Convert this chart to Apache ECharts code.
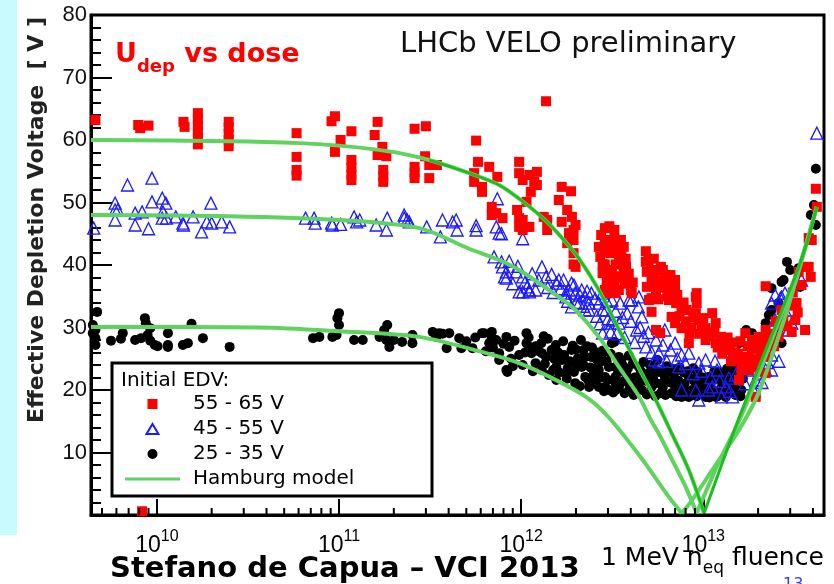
<!DOCTYPE html>
<html>
<head>
<meta charset="utf-8">
<title>Udep vs dose</title>
<script src="https://cdn.jsdelivr.net/npm/echarts@6/dist/echarts.min.js"></script>
<style>
  html, body { margin: 0; padding: 0; background: #fff; }
  #main { width: 834px; height: 584px; }
</style>
</head>
<body>
<div id="main"></div>
<script>
// fluence [1 MeV neq] , effective depletion voltage [V]
var red5565 = [
  [4.6e9,63.2],[7.9e9,62.4],[8.1e9,61.9],[9.0e9,62.3],[1.4e10,62.9],[1.42e10,62.1],
  [1.68e10,64.3],[1.68e10,63.3],[1.68e10,62.3],[1.68e10,61.3],[1.68e10,60.3],[1.68e10,59.3],
  [2.48e10,62.9],[2.48e10,62.0],[2.48e10,61.0],[2.48e10,60.0],[2.48e10,59.0],
  [5.85e10,61.1],[5.85e10,57.3],[5.85e10,55.2],[5.85e10,54.3],
  [9.1e10,63.0],[9.5e10,63.8],[1.02e11,60.0],[9.5e10,58.1],
  [1.17e11,61.4],[1.17e11,56.8],[1.17e11,55.6],[1.17e11,54.5],[1.17e11,53.6],
  [1.57e11,60.8],[1.63e11,62.9],[1.73e11,58.9],[1.82e11,57.4],[1.63e11,57.6],[1.75e11,55.2],[1.75e11,54.2],[1.75e11,53.3],
  [2.6e11,61.8],[2.6e11,55.7],[2.6e11,54.8],[2.6e11,53.9],[3.0e11,62.2],[2.97e11,57.4],[3.13e11,56.0],[3.13e11,53.9],[3.45e11,56.0],
  [1.37e12,66.2],
  [5.66e11,59.9],[5.8e11,56.5],[5.52e11,54.7],[5.52e11,53.3],[6.1e11,52.5],[6.1e11,51.7],[6.68e11,55.7],[7.4e11,54.1],
  [6.9e11,49.3],[7.3e11,48.3],[7.9e11,47.5],[6.9e11,48.0],
  [9.5e11,48.8],[9.75e11,56.5],[9.75e11,54.7],[1.02e12,53.6],[9.75e11,47.5],[9.75e11,46.1],[1.02e12,47.2],[1.02e12,45.6],
  [1.07e12,50.1],[1.08e12,46.1],[1.11e12,54.4],[1.11e12,46.1],[1.13e12,51.7],[1.18e12,53.3],[1.22e12,54.9],[1.22e12,52.8],
  [1.33e12,47.7],[1.39e12,47.2],[1.39e12,45.6],
  [1.61e12,50.4],[1.67e12,52.5],[1.88e12,51.8],[1.79e12,48.8],[1.9e12,47.7],[1.67e12,46.9],[1.99e12,46.4],[1.83e12,45.1],
  [1.94e12,45.6],[1.79e12,43.5],[1.94e12,44.0],[1.94e12,41.9],[1.94e12,40.1],[1.99e12,39.7],
  [2.67e12,42.9],[2.72e12,41.3],[2.8e12,38.7],[2.8e12,40.1],[2.88e12,45.9],[2.88e12,44.0],[2.88e12,42.0],[2.88e12,40.1],
  [2.88e12,36.0],[3.03e12,35.5],[3.1e12,41.9],[3.15e12,44.0],[3.15e12,37.1],[3.15e12,39.2],[3.25e12,45.6],[3.25e12,37.6],
  [3.3e12,43.0],[3.3e12,35.5],[3.3e12,40.1],[3.44e12,44.0],[3.44e12,40.5],[3.44e12,36.0],[3.53e12,44.0],[3.66e12,42.9],
  [3.66e12,39.2],[3.77e12,39.7],[3.82e12,37.6],[4.0e12,36.0],[4.05e12,35.5],
  [2.75e12,44.8],[2.95e12,43.0],[3.0e12,38.5],[3.05e12,46.2],[3.2e12,42.2],[3.35e12,38.2],[3.4e12,42.0],[3.5e12,38.0],
  [3.55e12,41.4],[3.7e12,37.0],[3.75e12,41.0],[3.9e12,38.6],[4.1e12,37.2],[2.95e12,37.2],[3.12e12,36.2],
  [4.84e12,42.2],[4.84e12,40.5],[4.9e12,38.9],[4.9e12,36.5],[5.03e12,34.4],[5.2e12,39.2],[5.2e12,37.5],[5.2e12,34.7],
  [5.2e12,32.5],[5.5e12,36.0],[5.5e12,29.6],[5.8e12,29.1],[5.85e12,39.7],[5.85e12,37.5],[6.0e12,39.2],[6.15e12,38.1],
  [6.47e12,34.4],[6.7e12,36.0],[6.7e12,31.7],[7.0e12,37.6],[7.0e12,36.0],[7.0e12,30.7],[7.1e12,33.9],[7.6e12,29.9],
  [5.0e12,40.8],[5.35e12,41.0],[5.4e12,38.2],[5.6e12,37.4],[5.65e12,34.5],[6.1e12,36.4],[6.3e12,37.2],[6.35e12,35.0],
  [6.6e12,38.4],[6.85e12,34.6],[7.2e12,35.2],[7.4e12,31.8],[7.8e12,34.0],[8.1e12,32.8],[8.4e12,29.0],[8.8e12,31.6],
  [7.6e12,33.0],[8.0e12,31.0],[8.33e12,27.5],[8.6e12,30.0],[9.1e12,34.9],[9.1e12,32.3],[9.2e12,35.5],[9.2e12,33.9],
  [9.45e12,31.2],[9.8e12,30.5],[9.5e12,29.0],[1.0e13,31.5],[1.03e13,29.9],[1.03e13,28.0],[1.07e13,28.6],[1.1e13,29.0],
  [1.12e13,32.3],[1.15e13,29.2],[1.17e13,30.7],[1.17e13,27.5],[1.2e13,26.8],[1.25e13,28.5],[1.27e13,25.8],[1.3e13,28.0],
  [1.33e13,26.4],[1.36e13,28.4],[1.4e13,27.0],[1.42e13,24.6],[1.45e13,25.9],[1.48e13,27.6],[1.5e13,26.0],[1.55e13,25.8],
  [1.57e13,24.8],[1.57e13,21.6],[1.6e13,27.8],[1.62e13,23.2],[1.66e13,23.8],[1.7e13,29.1],[1.7e13,25.3],[1.75e13,27.0],
  [1.78e13,23.2],[1.8e13,25.2],[1.85e13,28.0],[1.85e13,26.7],[1.85e13,24.3],[1.9e13,27.5],[1.94e13,18.9],[1.95e13,23.6],
  [2.01e13,28.5],[2.01e13,24.8],[2.05e13,26.0],[2.09e13,26.9],[2.12e13,28.0],[2.2e13,25.3],[2.2e13,22.7],[2.2e13,29.6],
  [2.2e13,36.6],[2.3e13,29.0],[2.37e13,27.5],[2.45e13,27.0],[2.5e13,31.0],[2.59e13,30.4],[2.59e13,28.5],[2.69e13,32.8],
  [2.75e13,31.6],[2.9e13,30.2],[2.95e13,33.5],[3.06e13,33.9],[3.06e13,29.3],[3.1e13,35.6],[3.2e13,31.2],[3.2e13,33.9],
  [3.25e13,33.9],[3.3e13,32.4],[3.34e13,38.9],[3.46e13,36.8],[3.62e13,29.6],[3.67e13,39.7],[3.79e13,39.7],[3.79e13,44.3],
  [3.89e13,38.1],[3.94e13,44.0],[4.15e13,52.2],[4.2e13,49.3],
  [8.3e9,0.6]
];

var blue4555 = [
  [4.5e9,45.9],[5.9e9,49.9],[5.9e9,48.8],[6.1e9,48.8],[5.9e9,47.2],[6.9e9,52.8],[7.6e9,48.3],[7.6e9,46.4],[8.3e9,48.5],
  [9.4e9,53.9],[9.4e9,50.1],[9.0e9,45.8],[1.07e10,50.7],[1.12e10,49.9],[1.08e10,48.5],[1.07e10,47.5],[1.13e10,47.5],
  [1.27e10,47.7],[1.39e10,46.7],[1.4e10,46.4],[1.58e10,47.7],[1.76e10,45.3],[1.88e10,46.9],[1.98e10,49.9],[2.0e10,46.7],
  [2.27e10,46.9],[2.51e10,46.1],
  [6.55e10,47.5],[7.3e10,47.5],[7.4e10,46.7],[9.1e10,46.7],[9.2e10,46.4],[1.02e11,46.5],[1.21e11,47.7],[1.25e11,46.9],
  [1.3e11,47.2],[1.6e11,46.4],[1.82e11,45.6],[1.84e11,47.5],[2.28e11,48.0],[2.37e11,47.2],[2.28e11,47.5],[2.43e11,46.9],
  [3.03e11,46.1],[3.6e11,44.5],[3.7e11,47.2],[4.2e11,46.9],[4.4e11,47.2],[4.45e11,45.6],[5.66e11,45.6],[5.66e11,46.3],
  [7.3e11,46.1],[7.57e11,45.1],[7.8e11,45.0],[7.4e11,50.6],[1.02e12,44.2],
  [7.1e11,41.3],[7.8e11,40.5],[7.9e11,39.7],[8.1e11,38.1],[8.3e11,38.9],[8.3e11,37.9],[9.4e11,38.9],[9.75e11,35.7],
  [1.02e12,38.1],[1.08e12,36.5],[1.11e12,36.0],[1.02e12,35.7],[1.11e12,35.7],[1.3e12,39.7],[1.37e12,38.1],[1.47e12,38.5],
  [1.56e12,37.1],[1.61e12,37.6],[1.71e12,37.6],[1.76e12,35.5],[1.76e12,34.9],[1.83e12,36.0],[1.89e12,37.1],[1.89e12,33.3],
  [1.98e12,35.5],[2.08e12,33.9],[2.15e12,36.0],[2.25e12,34.9],[2.25e12,32.8],[2.36e12,32.8],[2.36e12,33.9],[2.43e12,35.5],
  [2.67e12,33.9],[2.8e12,32.8],[2.8e12,35.5],[2.8e12,29.1],[2.92e12,32.8],[3.1e12,29.3],[3.15e12,34.4],[3.15e12,31.2],
  [8.6e11,40.6],[9.0e11,37.0],[9.6e11,39.8],[1.05e12,37.2],[1.15e12,38.6],[1.2e12,36.0],[1.25e12,37.6],[1.4e12,36.4],
  [1.5e12,35.6],[1.65e12,36.2],[1.8e12,34.2],[1.95e12,36.8],[2.0e12,34.0],[2.1e12,35.2],[2.2e12,33.4],[2.3e12,35.8],
  [2.55e12,34.6],[2.6e12,31.8],[2.7e12,30.6],[2.95e12,34.2],[3.0e12,31.4],[3.3e12,32.6],[3.35e12,29.0],[3.6e12,31.6],
  [3.7e12,28.4],[4.0e12,31.0],[4.2e12,27.6],[4.5e12,30.0],[4.7e12,28.6],[5.0e12,29.2],[5.2e12,26.0],[5.4e12,24.8],
  [6.0e12,27.2],[6.3e12,24.6],[6.6e12,26.4],[7.2e12,25.0],[8.0e12,24.2],[8.8e12,22.6],[9.8e12,23.0],[1.1e13,22.0],
  [1.16e13,24.6],[1.23e13,21.4],[1.4e13,19.8],[1.5e13,22.4],[1.7e13,21.0],[1.78e13,24.0],[1.9e13,19.8],[2.1e13,21.2],
  [2.25e13,24.4],[2.6e13,24.6],[2.75e13,30.6],[2.55e13,29.0],
  [3.15e12,30.7],[3.44e12,30.7],[3.5e12,33.9],[3.82e12,32.3],[3.91e12,34.4],[4.05e12,34.4],[4.3e12,29.6],[4.4e12,33.3],
  [4.43e12,34.9],[4.6e12,31.7],[4.84e12,26.9],[5.5e12,28.0],[5.7e12,25.9],[5.7e12,24.5],[6.15e12,29.6],[7.0e12,27.5],
  [7.34e12,23.7],[7.6e12,25.6],[7.6e12,20.0],[8.33e12,25.9],[9.1e12,20.0],[9.45e12,24.3],[9.45e12,18.4],[1.03e13,24.8],
  [1.07e13,20.0],[1.12e13,20.5],[1.19e13,23.2],[1.26e13,18.9],[1.33e13,20.5],[1.38e13,21.9],[1.45e13,18.9],[1.57e13,25.3],
  [1.62e13,24.3],[1.85e13,25.3],[1.85e13,23.2],[1.94e13,21.6],[2.01e13,22.7],[2.2e13,23.2],[2.37e13,25.6],[2.37e13,23.2],
  [2.37e13,33.9],[2.48e13,31.2],[2.48e13,35.2],[2.65e13,34.7],[2.69e13,34.9],[2.81e13,32.8],[2.81e13,35.5],[2.94e13,29.6],
  [3.06e13,30.7],[3.46e13,37.6],[4.2e13,61.1]
];

var black2535 = [
  [4.7e9,32.5],[4.45e9,30.4],[4.45e9,29.1],[4.6e9,28.3],[4.6e9,27.2],[4.6e9,29.6],[5.6e9,27.9],[6.35e9,28.2],[6.5e9,29.1],
  [7.6e9,28.0],[8.2e9,28.3],[8.6e9,31.5],[8.7e9,30.7],[9.2e9,29.9],[8.9e9,28.8],[9.2e9,27.9],[9.75e9,27.2],[1.01e10,27.0],
  [1.15e10,29.1],[1.15e10,27.2],[1.15e10,26.9],[1.39e10,27.2],[1.48e10,27.5],[1.55e10,30.6],[1.79e10,28.3],[2.51e10,26.9],
  [7.2e10,28.3],[7.8e10,28.5],[1.0e11,32.3],[9.8e10,31.5],[1.0e11,30.4],[9.7e10,28.8],[9.2e10,28.5],[1.21e11,28.0],
  [1.35e11,28.0],[1.67e11,28.5],[1.77e11,29.6],[1.84e11,30.4],[1.82e11,28.0],[1.89e11,26.9],[2.0e11,28.0],[2.22e11,27.7],
  [2.53e11,28.8],[2.53e11,27.5],[3.27e11,29.3],[3.42e11,28.5],
  [3.56e11,29.1],[3.7e11,29.0],[4.03e11,29.1],[4.57e11,28.3],[3.9e11,26.7],[4.7e11,26.7],[5.4e11,26.7],[6.1e11,29.1],
  [6.25e11,29.1],[6.9e11,29.3],[6.9e11,28.3],[6.68e11,27.5],[7.3e11,28.0],[7.57e11,25.9],[7.57e11,24.8],[8.3e11,23.2],
  [8.4e11,22.9],[8.6e11,26.9],[8.3e11,28.5],[9.75e11,25.6],[1.07e12,29.1],[1.07e12,27.5],[1.02e12,24.0],[1.11e12,26.9],
  [5.0e11,27.8],[5.6e11,28.4],[6.4e11,26.2],[7.0e11,26.8],[8.0e11,27.4],[8.8e11,25.0],[9.2e11,27.9],[9.0e11,23.8],
  [1.05e12,26.0],[1.1e12,28.4],[1.16e12,23.0],[1.25e12,26.2],[1.33e12,28.6],[1.35e12,24.2],[1.42e12,22.4],[1.52e12,25.0],
  [1.55e12,27.2],[1.62e12,22.8],[1.72e12,25.6],[1.78e12,21.8],[1.85e12,24.6],[1.92e12,27.1],[1.95e12,22.9],[2.05e12,25.1],
  [2.1e12,20.6],[2.2e12,26.4],[2.2e12,24.0],[2.33e12,21.6],[2.4e12,23.6],[2.45e12,26.8],[2.55e12,21.0],[2.6e12,24.9],
  [2.72e12,22.0],[2.8e12,26.3],[2.85e12,19.8],[2.95e12,24.5],[3.0e12,21.6],[3.1e12,25.8],[3.2e12,19.6],[3.4e12,22.8],
  [3.45e12,20.6],[3.55e12,24.8],[3.65e12,21.4],[3.7e12,19.5],[3.85e12,23.4],[3.95e12,20.4],[4.1e12,24.2],[4.15e12,19.2],
  [4.3e12,22.0],[4.4e12,20.8],[4.55e12,23.0],[4.8e12,21.5],[4.9e12,19.3],[5.1e12,24.0],[5.3e12,21.9],[5.45e12,19.0],
  [5.7e12,22.9],[5.9e12,21.0],[6.2e12,19.2],[6.3e12,23.8],[6.6e12,21.2],[6.8e12,23.4],[7.1e12,19.0],[7.4e12,23.6],
  [7.5e12,20.0],[7.9e12,21.0],[8.2e12,23.0],[8.5e12,19.4],[8.9e12,21.5],[9.2e12,19.0],[9.3e12,22.9],[9.7e12,19.8],
  [9.9e12,22.0],[1.05e13,20.8],[1.08e13,18.8],[1.13e13,20.0],[1.2e13,19.0],[1.22e13,22.8],[1.28e13,21.0],[1.33e13,18.9],
  [1.35e13,23.4],[1.42e13,21.5],[1.48e13,20.4],[1.52e13,22.2],[1.6e13,19.0],[1.65e13,23.0],
  [1.14e12,25.9],[1.2e12,24.3],[1.2e12,27.0],[1.29e12,27.5],[1.3e12,25.9],[1.37e12,25.3],[1.3e12,23.2],[1.4e12,28.2],
  [1.47e12,26.4],[1.5e12,23.2],[1.56e12,21.6],[1.56e12,23.7],[1.6e12,26.0],[1.68e12,24.8],[1.7e12,27.8],[1.76e12,22.7],
  [1.8e12,23.5],[1.89e12,26.4],[1.98e12,24.3],[1.98e12,21.1],[2.0e12,26.5],[2.13e12,28.0],[2.15e12,23.7],[2.25e12,22.1],
  [2.25e12,25.3],[2.3e12,27.0],[2.36e12,20.5],[2.43e12,25.3],[2.5e12,22.5],[2.6e12,26.0],[2.67e12,23.2],[2.67e12,20.5],
  [2.67e12,24.3],[2.76e12,25.3],[2.88e12,22.1],[2.88e12,20.5],[3.03e12,20.0],[3.03e12,23.7],[3.15e12,27.5],[3.25e12,27.7],
  [3.3e12,23.7],[3.3e12,21.1],[3.3e12,22.1],[3.3e12,20.0],[3.44e12,25.3],[3.6e12,24.0],[3.77e12,22.7],[3.9e12,25.5],
  [4.05e12,21.6],[4.2e12,22.0],[4.43e12,23.7],[4.6e12,20.0],[4.7e12,24.5],[5.03e12,22.7],[5.2e12,20.5],[5.3e12,23.5],
  [5.5e12,21.1],[5.6e12,24.8],[5.85e12,19.5],[6.0e12,20.5],[6.15e12,22.1],[6.4e12,23.0],[6.7e12,19.5],[6.9e12,22.5],
  [7.0e12,20.5],[7.3e12,21.5],[7.6e12,18.9],[7.8e12,22.8],[8.0e12,19.8],[8.33e12,22.1],[8.33e12,18.9],[8.7e12,20.0],
  [8.8e12,23.5],[9.0e12,21.8],[9.45e12,21.1],[1.0e13,20.0],[1.03e13,18.9],[1.07e13,22.1],[1.1e13,19.5],[1.12e13,21.6],
  [1.15e13,23.0],[1.17e13,18.9],[1.22e13,21.6],[1.25e13,20.2],[1.3e13,22.0],[1.38e13,19.5],[1.4e13,20.5],[1.45e13,22.7],
  [1.45e13,23.2],[1.5e13,19.2],[1.55e13,23.5],[1.57e13,21.6],[1.57e13,27.5],[1.62e13,20.0],[1.65e13,21.8],[1.7e13,24.8],
  [1.72e13,29.6],[1.85e13,29.1],[2.2e13,30.7],[2.29e13,32.0],[2.37e13,32.8],[2.59e13,33.9],[2.69e13,27.5],[2.59e13,30.7],
  [2.59e13,29.1],[2.88e13,40.5],[3.0e13,39.2],[2.69e13,37.3],[2.76e13,37.6],[2.37e13,36.3],[4.15e13,55.4],[4.05e13,49.6],
  [3.89e13,48.0],[4.15e13,46.4],[3.34e13,39.5],[3.4e13,36.5]
];

// Hamburg model curves (falling branch, rising branch)
var fall60 = [[4.35e9,60.0],[2.48e10,59.8],[6.08e10,59.5],[1.0e11,59.1],[1.57e11,58.5],[2.15e11,57.9],[3.13e11,56.8],
  [5.19e11,54.7],[7.57e11,52.8],[9.75e11,50.6],[1.33e12,47.4],[1.68e12,44.3],[2.08e12,41.0],[2.67e12,36.0],[3.4e12,30.0],
  [4.38e12,23.8],[5.57e12,18.0],[6.7e12,13.1],[8.33e12,7.2],[1.01e13,0.3]];
var rise60 = [[1.01e13,0.3],[1.5e13,14.0],[2.01e13,23.5],[2.76e13,33.5],[3.34e13,39.7],[3.79e13,44.5],[4.2e13,49.3]];
var fall48 = [[4.35e9,48.0],[2.48e10,47.8],[1.0e11,47.2],[2.76e11,45.9],[5.19e11,42.6],[7.57e11,40.8],[9.75e11,39.2],
  [1.61e12,34.9],[1.99e12,32.8],[2.67e12,28.5],[3.44e12,23.7],[4.43e12,19.0],[5.2e12,15.0],[5.7e12,13.0],[6.7e12,9.0],
  [8.0e12,4.5],[9.2e12,0.3]];
var rise48 = [[9.2e12,0.3],[1.22e13,8.5],[1.57e13,15.0],[2.01e13,22.5],[2.76e13,33.0],[3.34e13,39.5],[4.2e13,49.3]];
var fall30 = [[4.35e9,30.1],[3.67e10,30.0],[1.0e11,29.4],[2.76e11,28.5],[6.43e11,25.9],[9.75e11,24.3],[1.48e12,21.9],
  [2.27e12,18.9],[3.03e12,15.6],[4.6e12,9.0],[6.47e12,2.9],[7.6e12,0.3]];
var rise30 = [[7.6e12,0.3],[8.55e12,2.1],[1.15e13,7.7],[1.57e13,13.6],[2.01e13,19.5],[2.76e13,31.0],[3.34e13,39.0],[4.2e13,49.3]];

// log minor tick positions on the fluence axis
var minorTickVals = [5e9,6e9,7e9,8e9,9e9,
  2e10,3e10,4e10,5e10,6e10,7e10,8e10,9e10,
  2e11,3e11,4e11,5e11,6e11,7e11,8e11,9e11,
  2e12,3e12,4e12,5e12,6e12,7e12,8e12,9e12,
  2e13,3e13,4e13];

var legendNames = ['55 - 65 V', '45 - 55 V', '25 - 35 V', 'Hamburg model'];

var chart = echarts.init(document.getElementById('main'));

var lightGreen = '#5fd25f';
var darkGreen = '#1ebd1e';

function curve(data, color, width) {
  return {
    name: 'Hamburg model',
    type: 'line',
    data: data,
    showSymbol: false,
    symbol: 'none',
    smooth: 0.3,
    lineStyle: { color: color, width: width },
    itemStyle: { color: color },
    z: 6,
    silent: true
  };
}

var option = {
  animation: false,
  backgroundColor: '#fff',
  grid: { left: 91, top: 15, width: 733, height: 500, show: true, borderColor: '#000', borderWidth: 3, backgroundColor: 'transparent' },
  xAxis: {
    type: 'log',
    logBase: 10,
    min: 4.35e9,
    max: 4.6e13,
    splitLine: { show: false },
    axisLine: { lineStyle: { color: '#000', width: 3 } },
    axisTick: { inside: true, length: 16, lineStyle: { color: '#000', width: 2 } },
    axisLabel: {
      margin: 18,
      showMinLabel: false,
      showMaxLabel: false,
      color: '#000',
      formatter: function (v) {
        var e = Math.round(Math.log10(v));
        return '{b|10}{s|' + e + '}';
      },
      rich: {
        b: { fontSize: 23, fontFamily: 'Liberation Sans', color: '#000', verticalAlign: 'bottom', lineHeight: 24 },
        s: { fontSize: 16, fontFamily: 'Liberation Sans', color: '#000', verticalAlign: 'bottom', lineHeight: 16, padding: [0, 0, 12, 0] }
      }
    }
  },
  yAxis: {
    type: 'value',
    min: 0,
    max: 80,
    interval: 10,
    splitLine: { show: false },
    axisLine: { lineStyle: { color: '#000', width: 3 } },
    axisTick: { inside: true, length: 21, lineStyle: { color: '#000', width: 2 } },
    minorTick: { show: true, splitNumber: 5, length: 10, lineStyle: { color: '#000', width: 2 } },
    axisLabel: {
      margin: 4,
      fontSize: 22,
      fontFamily: 'Liberation Sans',
      color: '#111',
      formatter: function (v) { return v === 0 ? '' : String(v); }
    }
  },
  legend: {
    orient: 'vertical',
    left: 125,
    top: 394,
    padding: 0,
    itemGap: 5,
    itemWidth: 55,
    itemHeight: 10,
    symbolKeepAspect: true,
    selectedMode: false,
    z: 30,
    data: [
      { name: legendNames[0], icon: 'path://M0,0L10,0L10,10L0,10Z' },
      { name: legendNames[1], icon: 'path://M6,0L12,10L0,10Z' },
      { name: legendNames[2], icon: 'path://M5,0A5,5,0,1,1,4.99,0Z' },
      { name: legendNames[3], icon: 'path://M0,0L55,0L55,3L0,3Z' }
    ],
    textStyle: { fontFamily: 'DejaVu Sans', fontSize: 20, color: '#000', lineHeight: 20, padding: [0, 0, 0, 8] }
  },
  graphic: [
    { type: 'rect', z: 0, shape: { x: 0, y: 0, width: 17, height: 535 }, style: { fill: '#c8fbfd' } },
    { type: 'rect', z: 20, shape: { x: 112, y: 363, width: 320, height: 133 }, style: { fill: '#fff', stroke: '#000', lineWidth: 3 } },
    { type: 'text', z: 21, x: 121, y: 381, style: { text: 'Initial EDV:', font: '20px "DejaVu Sans"', fill: '#000', verticalAlign: 'middle' } },
    { type: 'text', x: 37, y: 220, rotation: Math.PI / 2,
      style: { text: 'Effective Depletion Voltage  [ V ]', font: 'bold 22px "DejaVu Sans"', fill: '#222', align: 'center', verticalAlign: 'middle' } },
    { type: 'text', x: 400, y: 44, style: { text: 'LHCb VELO preliminary', font: '29px "DejaVu Sans"', fill: '#111', verticalAlign: 'middle' } },
    { type: 'text', x: 115, y: 46,
      style: {
        text: '{u|U}{d|dep}{u| vs dose}',
        rich: {
          u: { fontSize: 27, fontWeight: 'bold', fontFamily: 'DejaVu Sans', fill: '#ff0000', lineHeight: 30, padding: [0, 0, 8, 0], verticalAlign: 'bottom' },
          d: { fontSize: 18, fontWeight: 'bold', fontFamily: 'DejaVu Sans', fill: '#ff0000', lineHeight: 20, verticalAlign: 'bottom' }
        }
      } },
    { type: 'text', x: 110, y: 569, style: { text: 'Stefano de Capua \u2013 VCI 2013', font: 'bold 29px "DejaVu Sans"', fill: '#000', verticalAlign: 'middle' } },
    { type: 'text', x: 601, y: 551,
      style: {
        text: '{a|1 MeV n}{e|eq}{a| fluence}',
        rich: {
          a: { fontSize: 25, fontFamily: 'DejaVu Sans', fill: '#000', lineHeight: 26, padding: [0, 0, 6, 0], verticalAlign: 'bottom' },
          e: { fontSize: 17, fontFamily: 'DejaVu Sans', fill: '#000', lineHeight: 17, verticalAlign: 'bottom' }
        }
      } },
    { type: 'text', x: 783, y: 577, style: { text: '13', font: '16px "DejaVu Sans"', fill: '#3a3aff' } }
  ],
  series: [
    {
      name: '25 - 35 V', type: 'scatter', data: black2535, symbol: 'circle', symbolSize: 10, symbolKeepAspect: true,
      itemStyle: { color: '#000', opacity: 1 }, z: 3, silent: true
    },
    {
      name: '45 - 55 V', type: 'scatter', data: blue4555, symbol: 'triangle', symbolSize: 12, symbolKeepAspect: true,
      itemStyle: { color: 'rgba(0,0,0,0)', borderColor: '#1a1aff', borderWidth: 1.3, opacity: 1 }, z: 4, silent: true
    },
    {
      name: '55 - 65 V', type: 'scatter', data: red5565, symbol: 'rect', symbolSize: 10, symbolKeepAspect: true,
      itemStyle: { color: '#ff0000', opacity: 1 }, z: 5, silent: true
    },
    curve(fall30, lightGreen, 4),
    curve(rise30, lightGreen, 4),
    curve(fall48, lightGreen, 4),
    curve(rise48, lightGreen, 4),
    curve(fall60, lightGreen, 4),
    curve(fall60.slice(6), darkGreen, 2.5),
    curve(rise60, darkGreen, 3),
    {
      type: 'custom',
      silent: true,
      z: 7,
      clip: false,
      data: minorTickVals.map(function (v) { return [v, 0]; }),
      renderItem: function (params, api) {
        var p = api.coord([api.value(0), 0]);
        return {
          type: 'line',
          shape: { x1: p[0], y1: p[1], x2: p[0], y2: p[1] - 7 },
          style: { stroke: '#000', lineWidth: 2 }
        };
      }
    }
  ]
};

chart.setOption(option);
window.addEventListener('resize', function () { chart.resize(); });
</script>
</body>
</html>
